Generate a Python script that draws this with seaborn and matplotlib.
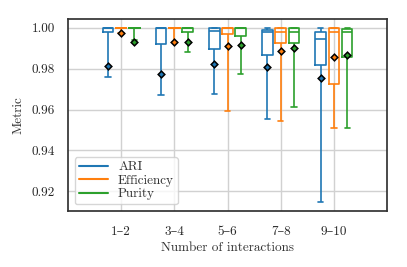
import matplotlib
matplotlib.use("Agg")
import numpy as np
import pandas as pd
import matplotlib.pyplot as plt
import seaborn as sns
from matplotlib.lines import Line2D

# ---- data ----
groups = ["1–2", "3–4", "5–6", "7–8", "9–10"]
metrics = ["ARI", "Efficiency", "Purity"]
colors = ["#1f77b4", "#ff7f0e", "#2ca02c"]

# five-number summaries per box (min, q1, median, q3, max)
ari_lo = [0.9759, 0.9670, 0.9675, 0.9556, 0.9147]
ari_q1 = [0.9980, 0.9922, 0.9898, 0.9868, 0.9818]
ari_med = [1.0000, 1.0000, 0.9986, 0.9980, 0.9943]
ari_q3 = [1.0000, 1.0000, 1.0000, 0.9991, 0.9977]
ari_hi = [1.0000, 1.0000, 1.0000, 1.0000, 1.0000]

eff_lo = [0.9975, 0.9928, 0.9595, 0.9546, 0.9509]
eff_q1 = [1.0000, 1.0000, 0.9970, 0.9925, 0.9727]
eff_med = [1.0000, 1.0000, 1.0000, 0.9979, 0.9977]
eff_q3 = [1.0000, 1.0000, 1.0000, 1.0000, 0.9997]
eff_hi = [1.0000, 1.0000, 1.0000, 1.0000, 1.0000]

pur_lo = [0.9940, 0.9880, 0.9776, 0.9610, 0.9509]
pur_q1 = [1.0000, 0.9980, 0.9958, 0.9925, 0.9855]
pur_med = [1.0000, 1.0000, 1.0000, 0.9980, 0.9977]
pur_q3 = [1.0000, 1.0000, 1.0000, 1.0000, 0.9995]
pur_hi = [1.0000, 1.0000, 1.0000, 1.0000, 1.0000]

# means (black diamonds)
ari_mean = [0.9812, 0.9773, 0.9822, 0.9809, 0.9754]
eff_mean = [0.9972, 0.9928, 0.9909, 0.9888, 0.9855]
pur_mean = [0.9932, 0.9928, 0.9913, 0.9899, 0.9868]

summaries = {
    "ARI": [ari_lo, ari_q1, ari_med, ari_q3, ari_hi],
    "Efficiency": [eff_lo, eff_q1, eff_med, eff_q3, eff_hi],
    "Purity": [pur_lo, pur_q1, pur_med, pur_q3, pur_hi],
}
means = {"ARI": ari_mean, "Efficiency": eff_mean, "Purity": pur_mean}

rows = []
for m in metrics:
    for gi, g in enumerate(groups):
        for stat in summaries[m]:
            rows.append({"group": g, "metric": m, "value": stat[gi]})
df = pd.DataFrame(rows)

mean_rows = []
for m in metrics:
    for gi, g in enumerate(groups):
        mean_rows.append({"group": g, "metric": m, "value": means[m][gi]})
df_mean = pd.DataFrame(mean_rows)

# ---- style ----
sns.set_style("whitegrid")
plt.rcParams["font.family"] = ["cmr10", "DejaVu Serif"]
plt.rcParams["axes.formatter.use_mathtext"] = True
plt.rcParams["mathtext.fontset"] = "cm"
plt.rcParams["axes.edgecolor"] = "0.2"
plt.rcParams["axes.linewidth"] = 1.25
plt.rcParams["grid.color"] = "0.82"
plt.rcParams["text.color"] = "0.2"
plt.rcParams["axes.labelcolor"] = "0.2"

fig = plt.figure(figsize=(4.07, 2.67), dpi=100)
ax = fig.add_axes([0.167, 0.210, 0.784, 0.719])

sns.boxplot(
    data=df, x="group", y="value", hue="metric",
    order=groups, hue_order=metrics, palette=colors,
    fill=False, width=0.75, gap=0.2, whis=(0, 100),
    linewidth=1.2, legend=False, ax=ax,
)

sns.pointplot(
    data=df_mean, x="group", y="value", hue="metric",
    order=groups, hue_order=metrics, palette=colors,
    dodge=0.5, markers="D", linestyle="none", errorbar=None,
    markersize=3.4, markeredgewidth=1.1, markeredgecolor="black",
    legend=False, ax=ax,
)
for ln in ax.lines[-6:]:
    ln.set_zorder(5)

ax.set_xlim(-1.0, 5.0)
ax.grid(True, axis="both", color="0.82", linewidth=1.0)
ax.set_axisbelow(True)
ax.set_yticks([0.92, 0.94, 0.96, 0.98, 1.00])
ax.set_yticklabels(["0.92", "0.94", "0.96", "0.98", "1.00"])
ax.tick_params(axis="both", labelsize=9.5, length=3.5, color="0.82", width=0.8)
ax.tick_params(axis="x", pad=7)
ax.tick_params(axis="y", pad=6)
ax.set_xlabel("Number of interactions", fontsize=9.5, labelpad=3)
ax.set_ylabel("Metric", fontsize=9.5, labelpad=5)

handles = [Line2D([0], [0], color=c, lw=1.5) for c in colors]
ax.legend(handles, metrics, loc="lower left", fontsize=9.5, frameon=True,
          edgecolor="0.8", handlelength=2.2, borderaxespad=0.5,
          labelspacing=0.1, borderpad=0.3)

fig.savefig("out.png", dpi=100)
